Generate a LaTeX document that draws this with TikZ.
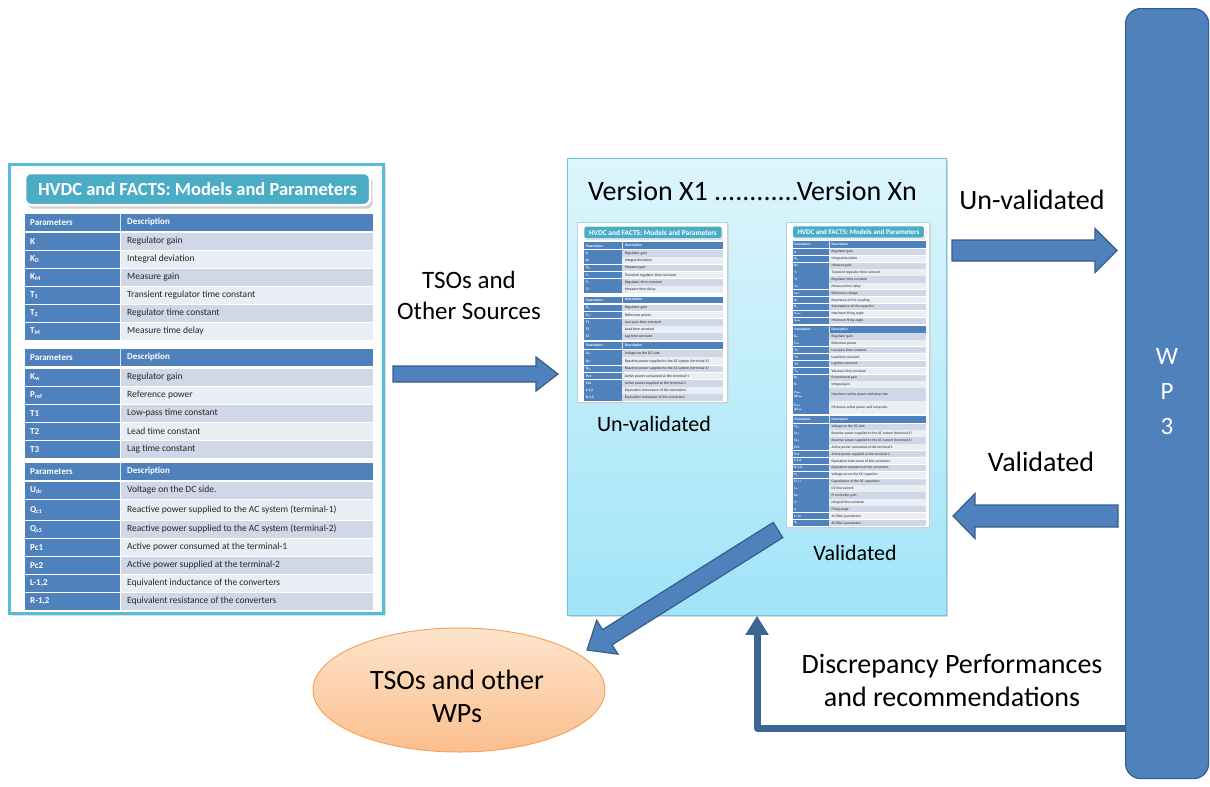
\documentclass[tikz,border=0pt]{standalone}
\usepackage{fontspec}
\setmainfont{Carlito}
\usetikzlibrary{calc,shapes.geometric,arrows.meta,shadows}

\definecolor{accblue}{HTML}{4F81BD}
\definecolor{accedge}{HTML}{385D8A}
\definecolor{rowdark}{HTML}{D0D8E8}
\definecolor{rowlight}{HTML}{E9EDF4}
\definecolor{titleteal}{HTML}{4BACC6}
\definecolor{panelcyan}{HTML}{56BDD8}
\definecolor{miniedge}{HTML}{B9D3E0}
\definecolor{fbblue}{HTML}{3C6595}
\definecolor{boxtop}{HTML}{DDF5FC}
\definecolor{boxbot}{HTML}{A0E4F8}
\definecolor{boxedge}{HTML}{6CC6DE}
\definecolor{ovaltop}{HTML}{FDE4CB}
\definecolor{ovalbot}{HTML}{FBBF8E}
\definecolor{ovaledge}{HTML}{F4A460}

\tikzset{
  ptext/.style={anchor=west, inner sep=0pt, text=white, align=left,
    font=\fontsize{9}{10}\selectfont\bfseries},
  dtext/.style={anchor=west, inner sep=0pt, text=black!85,
    font=\fontsize{9.5}{11}\selectfont},
  ttext/.style={inner sep=0pt, text=white, font=\fontsize{18.5}{21}\selectfont\bfseries},
  bigtxt/.style={inner sep=0pt, font=\fontsize{28}{33}\selectfont, align=center},
  midtxt/.style={inner sep=0pt, font=\fontsize{25}{31}\selectfont, align=center},
  smalltxt/.style={inner sep=0pt, font=\fontsize{22}{26}\selectfont},
  wptext/.style={inner sep=0pt, text=white, font=\fontsize{25}{35}\selectfont, align=center},
  blockarr/.style={fill=accblue, draw=accedge, line width=1.2pt, line join=miter},
  wpbar/.style={fill=accblue, draw=accedge, line width=1.2pt, rounded corners=15pt, inner sep=0pt},
  panel/.style={draw=panelcyan, line width=3pt, fill=white, inner sep=0pt,
    drop shadow={shadow xshift=2pt, shadow yshift=-2pt, opacity=0.25}},
  versionbox/.style={draw=boxedge, line width=0.8pt, top color=boxtop, bottom color=boxbot,
    inner sep=0pt, drop shadow={shadow xshift=2pt, shadow yshift=-2pt, opacity=0.3}},
  oval/.style={ellipse, draw=ovaledge, line width=1pt, top color=ovaltop, bottom color=ovalbot,
    inner sep=0pt},
  fbline/.style={draw=fbblue, line width=7pt, line join=round,
    -{Triangle[width=22pt,length=19pt]}},
}

% line widths and radii inside scaled copies of the table
\newcommand\tabscale{1}

% title bar of a parameter sheet (local units, sheet width 374)
\newcommand\tabtitle[1]{%
  \fill[black!18, rounded corners={6pt*\tabscale}] (19.5,13) rectangle (364.5,45.5);
  \filldraw[draw=white, line width={2.5pt*\tabscale}, fill=titleteal,
    rounded corners={6pt*\tabscale}] (17,10) rectangle (362,42);
  \node[ttext] (#1) at (189.5,26.5) {HVDC and FACTS: Models and Parameters};
}
% header row of a table
\newcommand\tabhead[2]{%
  \fill[accblue] (17,#2) rectangle (365,{#2+17});
  \fill[white!80!accblue] (112,#2) rectangle (113,{#2+17});
  \node[ptext] (#1p) at (22,{#2+8.5}) {Parameters};
  \node[ptext] (#1d) at (119,{#2+8.5}) {Description};
}
% one table row: name, top, height, parameter, description, shade
\newcommand\tabrow[6]{%
  \fill[accblue] (17,#2) rectangle (112,{#2+#3});
  \fill[#6] (113,#2) rectangle (365,{#2+#3});
  \node[ptext] (#1p) at (22,{#2+#3/2}) {#4};
  \node[dtext] (#1d) at (119,{#2+#3/2}) {#5};
}

% the three-table parameter sheet
\newcommand\panelA[1]{%
  \tabtitle{#1t}
  \tabhead{#1h1}{51}
  \tabrow{#1r1}{70}{16.5}{K}{Regulator gain}{rowdark}
  \tabrow{#1r2}{88}{16.5}{K\textsubscript{D}}{Integral deviation}{rowlight}
  \tabrow{#1r3}{106}{16.5}{K\textsubscript{M}}{Measure gain}{rowdark}
  \tabrow{#1r4}{124}{16.5}{T\textsubscript{1}}{Transient regulator time constant}{rowlight}
  \tabrow{#1r5}{142}{16.5}{T\textsubscript{2}}{Regulator time constant}{rowdark}
  \tabrow{#1r6}{160}{16.5}{T\textsubscript{M}}{Measure time delay}{rowlight}
  \tabhead{#1h2}{186}
  \tabrow{#1s1}{206}{16.5}{K\textsubscript{w}}{Regulator gain}{rowdark}
  \tabrow{#1s2}{224}{16.5}{P\textsubscript{ref}}{Reference power}{rowlight}
  \tabrow{#1s3}{242}{16.5}{T1}{Low-pass time constant}{rowdark}
  \tabrow{#1s4}{260}{16.5}{T2}{Lead time constant}{rowlight}
  \tabrow{#1s5}{278}{16.5}{T3}{Lag time constant}{rowdark}
  \tabhead{#1h3}{300}
  \tabrow{#1u1}{319}{16.5}{U\textsubscript{dc}}{Voltage on the DC side.}{rowdark}
  \tabrow{#1u2}{337}{19.5}{Q\textsubscript{c1}}{Reactive power supplied to the AC system (terminal-1)}{rowlight}
  \tabrow{#1u3}{358}{16.5}{Q\textsubscript{c2}}{Reactive power supplied to the AC system (terminal-2)}{rowdark}
  \tabrow{#1u4}{376}{16.5}{Pc1}{Active power consumed at the terminal-1}{rowlight}
  \tabrow{#1u5}{394}{16.5}{Pc2}{Active power supplied at the terminal-2}{rowdark}
  \tabrow{#1u6}{412}{16.5}{L-1,2}{Equivalent inductance of the converters}{rowlight}
  \tabrow{#1u7}{430}{16.5}{R-1,2}{Equivalent resistance of the converters}{rowdark}
}

% the extended sheet of version Xn
\newcommand\panelB[1]{%
  \tabtitle{#1t}
  \tabhead{#1h1}{50}
  \tabrow{#1r1}{70}{16.5}{K}{Regulator gain}{rowdark}
  \tabrow{#1r2}{88}{16.5}{K\textsubscript{D}}{Integral deviation}{rowlight}
  \tabrow{#1r3}{106}{16.5}{K\textsubscript{M}}{Measure gain}{rowdark}
  \tabrow{#1r4}{124}{16.5}{T\textsubscript{1}}{Transient regulator time constant}{rowlight}
  \tabrow{#1r5}{142}{16.5}{T\textsubscript{2}}{Regulator time constant}{rowdark}
  \tabrow{#1r6}{160}{16.5}{T\textsubscript{M}}{Measure time delay}{rowlight}
  \tabrow{#1r7}{178}{16.5}{U\textsubscript{ref}}{Reference voltage}{rowdark}
  \tabrow{#1r8}{196}{16.5}{X\textsubscript{s}}{Reactance of the coupling}{rowlight}
  \tabrow{#1r9}{214}{16.5}{B\textsubscript{c}}{Susceptance of the capacitor}{rowdark}
  \tabrow{#1r10}{232}{16.5}{α\textsubscript{max}}{Maximum firing angle}{rowlight}
  \tabrow{#1r11}{250}{16.5}{α\textsubscript{min}}{Minimum firing angle}{rowdark}
  \tabhead{#1h2}{272}
  \tabrow{#1s1}{291}{16.5}{K\textsubscript{w}}{Regulator gain}{rowdark}
  \tabrow{#1s2}{309}{16.5}{P\textsubscript{ref}}{Reference power}{rowlight}
  \tabrow{#1s3}{327}{16.5}{T1}{Low-pass time constant}{rowdark}
  \tabrow{#1s4}{345}{16.5}{T2}{Lead time constant}{rowlight}
  \tabrow{#1s5}{363}{16.5}{T3}{Lag time constant}{rowdark}
  \tabrow{#1s6}{381}{16.5}{T\textsubscript{w}}{Washout time constant}{rowlight}
  \tabrow{#1s7}{399}{16.5}{K\textsubscript{p}}{Proportional gain}{rowdark}
  \tabrow{#1s8}{417}{16.5}{K\textsubscript{i}}{Integral gain}{rowlight}
  \tabrow{#1s9}{435}{32}{P\textsubscript{max}\\ ΔP\textsubscript{max}}{Maximum active power and ramp rate}{rowdark}
  \tabrow{#1s10}{469}{32}{P\textsubscript{min}\\ ΔP\textsubscript{min}}{Minimum active power and ramp rate}{rowlight}
  \tabhead{#1h3}{508}
  \tabrow{#1u1}{527}{16.5}{U\textsubscript{dc}}{Voltage on the DC side}{rowdark}
  \tabrow{#1u2}{545}{16.5}{Q\textsubscript{c1}}{Reactive power supplied to the AC system (terminal-1)}{rowlight}
  \tabrow{#1u3}{563}{16.5}{Q\textsubscript{c2}}{Reactive power supplied to the AC system (terminal-2)}{rowdark}
  \tabrow{#1u4}{581}{16.5}{Pc1}{Active power consumed at the terminal-1}{rowlight}
  \tabrow{#1u5}{599}{16.5}{Pc2}{Active power supplied at the terminal-2}{rowdark}
  \tabrow{#1u6}{617}{16.5}{L-1,2}{Equivalent inductance of the converters}{rowlight}
  \tabrow{#1u7}{635}{16.5}{R-1,2}{Equivalent resistance of the converters}{rowdark}
  \tabrow{#1u8}{653}{16.5}{U\textsubscript{c}}{Voltage across the DC capacitor}{rowlight}
  \tabrow{#1u9}{671}{16.5}{C\textsubscript{1,2,3}}{Capacitance of the DC capacitors}{rowdark}
  \tabrow{#1u10}{689}{16.5}{I\textsubscript{dc}}{DC line current}{rowlight}
  \tabrow{#1u11}{707}{16.5}{K\textsubscript{pi}}{PI controller gain}{rowdark}
  \tabrow{#1u12}{725}{16.5}{T\textsubscript{i}}{Integral time constant}{rowlight}
  \tabrow{#1u13}{743}{16.5}{α}{Firing angle}{rowdark}
  \tabrow{#1u14}{761}{16.5}{L\textsubscript{f}, C\textsubscript{f}}{AC filter parameters}{rowlight}
  \tabrow{#1u15}{779}{16.5}{R\textsubscript{f}}{AC filter parameters}{rowdark}
}

% broad block arrow: tail, tip, shaft half width, head half width, head length
\newcommand\blockarrow[5]{%
  \coordinate (bahead) at ($(#2)!#5!(#1)$);
  \filldraw[blockarr] ($(#1)!#3!90:(#2)$) -- ($(bahead)!#3!90:(#2)$)
    -- ($(bahead)!#4!90:(#2)$) -- (#2) -- ($(bahead)!#4!-90:(#2)$)
    -- ($(bahead)!#3!-90:(#2)$) -- ($(#1)!#3!-90:(#2)$) -- cycle;
}

\begin{document}
\begin{tikzpicture}[x=1pt, y=-1pt]
\useasboundingbox (0,0) rectangle (1210,787);

% WP3 column
\node[wpbar, anchor=north west, minimum width=83pt, minimum height=770pt] (wp) at (1125,8) {};
\node[wptext] (wptxt) at (1167,392) {W\\P\\3};

% parameter sheet on the left
\node[panel, anchor=north west, minimum width=374pt, minimum height=449pt] (leftpanel) at (8,163) {};
\begin{scope}[shift={(8,163)}]
  \panelA{big}
\end{scope}

% versions box
\node[versionbox, anchor=north west, minimum width=379pt, minimum height=457pt] (mid) at (567,158) {};
\node[bigtxt, anchor=west] (ver) at (588,191) {Version X1 ............Version Xn};

\begin{scope}[shift={(577,222)}, scale=0.401, transform shape]
  \def\tabscale{0.401}
  \fill[black!15] (4,4) rectangle (378,454);
  \filldraw[fill=white, draw=miniedge, line width=0.6pt] (0,0) rectangle (374,450);
  \panelA{mone}
\end{scope}
\begin{scope}[shift={(786,222)}, scale=0.3824, transform shape]
  \def\tabscale{0.3824}
  \fill[black!15] (4,4) rectangle (378,803);
  \filldraw[fill=white, draw=miniedge, line width=0.6pt] (0,0) rectangle (374,799);
  \panelB{mtwo}
\end{scope}
\node[smalltxt] (unv1) at (654,424) {Un-validated};
\node[smalltxt] (val1) at (855,553) {Validated};

% stakeholders
\node[oval, minimum width=292pt, minimum height=124pt] (tso) at (459,690) {};
\node[bigtxt] (tsotxt) at (457,696) {TSOs and other\\WPs};

% block arrows
\coordinate (srcT) at (393,374);
\coordinate (srcH) at (558,374);
\blockarrow{srcT}{srcH}{8pt}{17pt}{22pt}
\node[midtxt] (srctxt) at (469,295) {TSOs and\\Other Sources};

\coordinate (unvT) at (952,250.5);
\coordinate (unvH) at (1117,250.5);
\blockarrow{unvT}{unvH}{10.5pt}{22pt}{22pt}
\node[bigtxt] (unv2) at (1032,200) {Un-validated};

\coordinate (valT) at (1118,516);
\coordinate (valH) at (953,516);
\blockarrow{valT}{valH}{11pt}{22.5pt}{22pt}
\node[bigtxt] (val2) at (1041,462) {Validated};

\coordinate (outT) at (778,530);
\coordinate (outH) at (587,650);
\blockarrow{outT}{outH}{9pt}{20pt}{24pt}

% feedback from WP3
\coordinate (fbS) at (wp.west |- 0,728);
\coordinate (fbC) at (757,728);
\draw[fbline] (fbS) -- (fbC) -- (fbC |- mid.south);
\node[bigtxt] (fbtxt) at (952,680) {Discrepancy Performances\\ and recommendations};
\end{tikzpicture}
\end{document}
